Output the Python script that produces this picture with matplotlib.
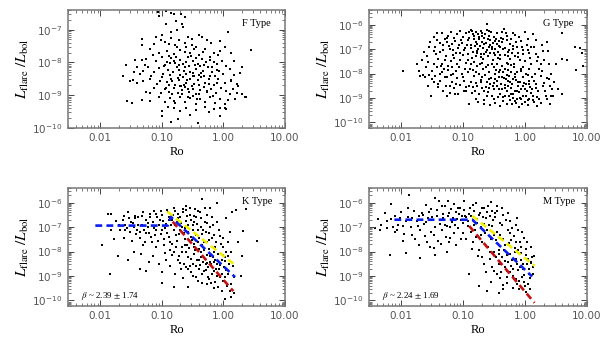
import numpy as np
import matplotlib.pyplot as plt
from matplotlib.ticker import FixedLocator, FixedFormatter, LogLocator, NullFormatter

# (log10 Ro, log10 Lflare/Lbol), one list per spectral type
f_pairs = [
    (-1.07, -6.46), (-1.05, -6.59), (-0.93, -6.43), (-0.85, -6.49), (-0.80, -6.53), (-0.69, -6.51),
    (-0.68, -6.84), (-0.66, -6.92), (-0.85, -7.07), (-0.99, -7.17), (0.08, -7.07), (-0.40, -7.15),
    (-0.75, -7.00), (-1.09, -7.23), (-1.33, -7.28), (-1.32, -7.48), (-1.13, -7.43), (-1.01, -7.33),
    (-0.85, -7.25), (-0.72, -7.33), (-0.51, -7.28), (-0.35, -7.23), (-0.51, -7.48), (-0.95, -7.38),
    (-0.88, -7.45), (-0.62, -7.40), (-0.05, -7.35), (-0.20, -7.42), (-0.75, -7.53), (-0.61, -7.53),
    (-0.91, -7.64), (-0.05, -7.64), (0.45, -7.62), (-1.20, -7.60), (-1.05, -7.70), (-0.80, -7.75),
    (-0.55, -7.70), (-0.40, -7.78), (-0.30, -7.60), (-0.15, -7.72), (0.12, -7.70), (-1.15, -7.78),
    (-0.70, -7.62), (-0.48, -7.58), (-1.58, -8.07), (-1.25, -7.90), (-1.10, -7.95), (-1.00, -7.85),
    (-0.92, -7.98), (-0.85, -7.88), (-0.78, -8.02), (-0.70, -7.92), (-0.65, -8.05), (-0.58, -7.85),
    (-0.50, -7.95), (-0.42, -8.05), (-0.35, -7.90), (-0.28, -8.00), (-0.22, -7.85), (-0.15, -7.98),
    (-0.10, -8.05), (-0.02, -7.95), (0.05, -8.10), (-1.32, -7.94), (-0.95, -8.08), (-0.88, -7.82),
    (-0.72, -8.08), (-0.60, -7.98), (-0.45, -7.88), (-0.32, -8.08), (-0.80, -7.95), (-1.36, -8.37),
    (-1.31, -8.25), (-1.45, -8.30), (-1.22, -8.15), (-1.12, -8.28), (-1.05, -8.18), (-0.98, -8.35),
    (-0.90, -8.22), (-0.82, -8.30), (-0.76, -8.15), (-0.70, -8.38), (-0.64, -8.25), (-0.56, -8.12),
    (-0.50, -8.32), (-0.45, -8.20), (-0.40, -8.38), (-0.33, -8.25), (-0.25, -8.15), (-0.18, -8.30),
    (-0.10, -8.22), (0.00, -8.35), (0.10, -8.20), (0.18, -8.38), (-0.60, -8.35), (-0.72, -8.22),
    (-0.38, -8.12), (-0.86, -8.40), (-0.55, -8.28), (-1.51, -8.56), (-1.47, -8.55), (-1.30, -8.56),
    (-1.40, -8.62), (-1.20, -8.50), (-1.08, -8.65), (-1.00, -8.45), (-0.92, -8.60), (-0.85, -8.50),
    (-0.78, -8.68), (-0.72, -8.55), (-0.66, -8.45), (-0.60, -8.62), (-0.54, -8.50), (-0.48, -8.66),
    (-0.42, -8.55), (-0.36, -8.45), (-0.30, -8.62), (-0.24, -8.52), (-0.16, -8.68), (-0.08, -8.50),
    (0.02, -8.62), (0.12, -8.55), (0.22, -8.65), (-0.64, -8.70), (-0.50, -8.42), (-0.88, -8.68),
    (-0.40, -8.70), (-1.25, -8.90), (-1.12, -8.78), (-1.02, -8.95), (-0.95, -8.82), (-0.88, -8.92),
    (-0.80, -8.78), (-0.74, -8.95), (-0.68, -8.85), (-0.62, -8.75), (-0.56, -8.92), (-0.50, -8.80),
    (-0.44, -8.98), (-0.38, -8.85), (-0.32, -8.75), (-0.26, -8.92), (-0.20, -8.82), (-0.12, -8.95),
    (-0.04, -8.78), (0.05, -8.88), (0.15, -8.80), (0.30, -8.98), (-0.70, -8.72), (-0.84, -8.98),
    (-0.58, -8.82), (-1.56, -9.17), (-1.32, -9.15), (-1.20, -9.18), (-1.05, -9.05), (-0.95, -9.20),
    (-0.86, -9.10), (-0.78, -9.25), (-0.70, -9.05), (-0.62, -9.20), (-0.54, -9.10), (-0.45, -9.28),
    (-0.38, -9.12), (-0.30, -9.22), (-0.22, -9.05), (-0.14, -9.25), (-0.06, -9.12), (0.02, -9.28),
    (0.08, -9.15), (0.35, -9.05), (-0.50, -9.02), (-0.90, -9.35), (-0.80, -9.40), (-0.60, -9.38),
    (-0.45, -9.45), (-0.30, -9.35), (-0.15, -9.42), (-0.05, -9.40), (0.02, -9.38), (-0.70, -9.50),
    (-1.00, -9.65), (-0.85, -9.82), (-0.42, -9.85), (-0.05, -9.65), (0.24, -8.71), (0.37, -9.07),
    (0.13, -8.56),
    (-0.97, -8.12), (-0.83, -8.57), (-0.77, -7.83), (-0.69, -8.71), (-0.63, -8.14), (-0.57, -9.07),
    (-0.53, -7.81), (-0.47, -8.43), (-0.43, -9.13), (-0.37, -8.31), (-0.33, -7.67), (-0.27, -8.87),
    (-0.21, -8.41), (-0.17, -9.03), (-0.11, -8.63), (-0.07, -8.27), (-0.93, -8.77), (-0.87, -8.03),
    (-0.81, -9.17), (-0.73, -8.47), (-0.67, -8.97), (-0.59, -8.53), (-0.51, -8.73), (-0.46, -8.07),
    (-0.39, -8.97), (-0.31, -8.43), (-0.24, -8.67), (-0.19, -8.13), (-0.13, -8.41), (-1.17, -8.43),
    (-1.27, -8.07), (-1.03, -8.57), (-1.41, -8.13), (-1.19, -8.93), (-0.99, -9.47), (-0.79, -7.47),
    (-0.63, -7.67), (-0.57, -7.23), (-0.44, -7.53), (-0.27, -7.33), (-0.63, -6.63), (-0.77, -6.73),
    (-0.94, -6.83), (0.27, -8.33), (0.19, -9.13), (0.11, -8.97), (0.04, -9.43), (-0.24, -9.51),
    (-0.54, -9.60), (-1.43, -7.93), (-1.63, -8.43), (-1.49, -9.23), (-0.73, -9.73), (-0.21, -7.93),
    (-0.09, -7.77), (0.03, -7.53), (0.18, -7.97), (0.31, -8.13), (0.22, -8.93),
]

g_pairs = [
    (-1.98, -7.90), (-1.75, -7.60), (-1.72, -7.90), (-1.70, -8.10), (-1.65, -8.05), (-1.58, -7.30),
    (-1.55, -6.90), (-1.52, -8.90), (-1.60, -7.75), (-1.62, -8.15),
    (-1.48, -6.50), (-1.42, -6.35), (-1.35, -6.35), (-1.30, -6.60), (-1.25, -6.45), (-1.20, -6.30),
    (-1.15, -6.55), (-1.10, -6.40), (-1.05, -6.25), (-1.00, -6.50), (-0.95, -6.35), (-0.90, -6.30),
    (-1.45, -6.90), (-1.38, -7.10), (-1.32, -6.85), (-1.28, -7.30), (-1.22, -7.00), (-1.18, -6.80),
    (-1.12, -7.15), (-1.08, -6.95), (-1.02, -6.75), (-0.98, -7.05), (-0.94, -6.85), (-0.92, -7.20),
    (-1.40, -7.40), (-1.35, -7.60), (-1.30, -7.45), (-1.25, -7.70), (-1.20, -7.50), (-1.15, -7.35),
    (-1.10, -7.60), (-1.05, -7.45), (-1.00, -7.25), (-0.96, -7.55), (-1.44, -7.20), (-1.16, -7.05),
    (-1.06, -7.15), (-1.26, -6.70),
    (-1.50, -7.90), (-1.45, -8.10), (-1.42, -7.75), (-1.38, -8.30), (-1.35, -7.95), (-1.30, -8.15),
    (-1.28, -8.50), (-1.25, -7.85), (-1.20, -8.05), (-1.18, -8.35), (-1.15, -8.60), (-1.12, -7.90),
    (-1.10, -8.20), (-1.05, -8.45), (-1.02, -8.00), (-0.98, -8.30), (-0.95, -8.70), (-0.92, -7.95),
    (-1.40, -8.55), (-1.32, -8.70), (-1.22, -8.80), (-1.08, -8.85), (-0.96, -8.55), (-1.48, -8.35),
    (-1.55, -8.05), (-1.18, -7.75), (-1.36, -7.70),
    (-0.88, -6.20), (-0.85, -6.40), (-0.82, -6.60), (-0.80, -6.30), (-0.78, -6.80), (-0.75, -6.50),
    (-0.72, -6.25), (-0.70, -6.70), (-0.68, -6.95), (-0.65, -6.40), (-0.62, -6.20), (-0.60, -6.60),
    (-0.58, -6.90), (-0.55, -6.30), (-0.52, -6.75), (-0.50, -6.50), (-0.48, -7.00), (-0.45, -6.35),
    (-0.42, -6.65), (-0.40, -6.90), (-0.62, -5.97), (-0.88, -6.85), (-0.84, -7.10), (-0.80, -7.30),
    (-0.76, -7.00), (-0.72, -7.20), (-0.68, -7.40), (-0.64, -7.10), (-0.60, -7.30), (-0.56, -7.15),
    (-0.52, -7.45), (-0.48, -7.25), (-0.44, -7.10), (-0.40, -7.40), (-0.86, -7.35), (-0.74, -6.60),
    (-0.66, -6.80), (-0.54, -7.00), (-0.46, -6.80), (-0.78, -7.15), (-0.70, -6.45), (-0.58, -6.45),
    (-0.88, -7.60), (-0.85, -7.85), (-0.82, -8.10), (-0.80, -8.40), (-0.78, -7.70), (-0.75, -8.00),
    (-0.72, -8.25), (-0.70, -8.60), (-0.68, -7.80), (-0.65, -8.05), (-0.62, -8.35), (-0.60, -7.65),
    (-0.58, -7.95), (-0.55, -8.20), (-0.52, -8.50), (-0.50, -7.75), (-0.48, -8.00), (-0.45, -8.30),
    (-0.42, -8.65), (-0.40, -7.85), (-0.86, -8.80), (-0.80, -9.05), (-0.74, -8.85), (-0.66, -9.10),
    (-0.60, -8.75), (-0.54, -8.90), (-0.48, -9.20), (-0.44, -8.95), (-0.90, -9.25), (-0.56, -9.30),
    (-0.76, -9.15), (-0.64, -8.55), (-0.50, -8.40), (-0.84, -8.55), (-0.70, -7.55), (-0.46, -7.60),
    (-0.58, -8.60), (-0.42, -8.15),
    (-0.38, -6.30), (-0.35, -6.60), (-0.30, -6.45), (-0.25, -6.80), (-0.20, -6.35), (-0.15, -6.70),
    (-0.10, -6.50), (-0.05, -6.90), (0.00, -6.30), (0.05, -6.60), (-0.36, -7.00), (-0.32, -7.25),
    (-0.28, -7.10), (-0.24, -7.40), (-0.20, -7.00), (-0.16, -7.30), (-0.12, -7.15), (-0.08, -7.45),
    (-0.04, -7.20), (0.00, -7.50), (0.04, -7.05), (0.08, -7.35), (-0.30, -7.55), (-0.18, -7.60),
    (-0.38, -7.70), (-0.36, -7.95), (-0.34, -8.20), (-0.32, -8.45), (-0.30, -8.70), (-0.28, -7.85),
    (-0.26, -8.10), (-0.24, -8.35), (-0.22, -8.60), (-0.20, -8.85), (-0.18, -7.75), (-0.16, -8.00),
    (-0.14, -8.25), (-0.12, -8.50), (-0.10, -8.75), (-0.08, -9.00), (-0.06, -7.90), (-0.04, -8.15),
    (-0.02, -8.40), (0.00, -8.65), (0.02, -8.90), (0.04, -8.05), (0.06, -8.30), (0.08, -8.55),
    (0.10, -8.80), (-0.35, -8.95), (-0.25, -9.10), (-0.15, -9.20), (-0.05, -9.25), (0.05, -9.10),
    (-0.30, -9.25), (-0.10, -9.35), (0.00, -9.15), (-0.20, -9.00), (-0.33, -8.60), (-0.27, -8.30),
    (-0.13, -8.70), (-0.03, -8.50), (0.07, -7.80), (-0.22, -7.95),
    (0.12, -6.40), (0.15, -6.90), (0.18, -7.20), (0.20, -7.50), (0.22, -7.80), (0.25, -8.10),
    (0.28, -7.90), (0.30, -8.40), (0.32, -8.70), (0.35, -8.20), (0.38, -7.60), (0.40, -8.50),
    (0.42, -8.00), (0.15, -8.30), (0.18, -8.60), (0.20, -8.95), (0.12, -9.10), (0.25, -9.20),
    (0.35, -9.05), (0.45, -8.90), (0.50, -7.60), (0.59, -7.40), (0.68, -7.44), (0.80, -6.92),
    (0.88, -6.95), (0.92, -7.18), (0.93, -7.70), (0.83, -7.86), (0.60, -8.83), (0.42, -8.90),
    (0.60, -6.34), (0.37, -7.08), (0.29, -7.08),
    (-0.93, -6.62), (-0.87, -6.97), (-0.83, -6.48), (-0.79, -6.73), (-0.77, -7.07), (-0.73, -6.87),
    (-0.71, -7.33), (-0.67, -6.53), (-0.63, -6.77), (-0.61, -7.03), (-0.57, -6.63), (-0.53, -6.93),
    (-0.51, -7.17), (-0.47, -6.57), (-0.43, -6.87), (-0.41, -7.23), (-0.37, -6.73), (-0.33, -6.97),
    (-0.31, -6.33), (-0.27, -7.27), (-0.23, -6.57), (-0.21, -7.17), (-0.17, -6.43), (-0.13, -6.93),
    (-0.91, -6.53), (-0.86, -6.27), (-0.81, -6.89), (-0.76, -6.37), (-0.69, -6.33), (-0.66, -7.19),
    (-0.59, -6.27), (-0.56, -6.83), (-0.49, -6.69), (-0.44, -7.37), (-0.39, -6.53), (-0.34, -6.17),
    (-0.29, -6.63), (-0.26, -7.03), (-0.19, -6.87), (-0.11, -7.33), (-0.07, -6.67), (-0.03, -7.03),
    (0.03, -6.83), (0.07, -7.17), (-0.97, -6.97), (-1.03, -6.63), (-1.07, -6.83), (-1.13, -6.67),
    (-1.17, -7.23), (-1.23, -6.87), (-1.27, -6.53), (-1.33, -7.03), (-1.37, -6.77), (-1.43, -6.63),
    (-1.47, -7.07), (-1.53, -6.73), (-1.57, -7.53), (-1.63, -7.13), (-1.67, -7.43),
    (-0.93, -7.43), (-0.89, -7.83), (-0.83, -7.53), (-0.79, -7.93), (-0.73, -7.63), (-0.69, -8.13),
    (-0.63, -7.73), (-0.59, -8.23), (-0.53, -7.63), (-0.49, -8.23), (-0.43, -7.93), (-0.39, -8.43),
    (-0.33, -7.83), (-0.29, -8.07), (-0.23, -7.67), (-0.19, -8.23), (-0.13, -7.93), (-0.09, -8.33),
    (-0.03, -7.73), (0.01, -8.03), (0.07, -8.43), (0.11, -8.13), (-0.97, -7.83), (-1.01, -8.13),
    (-1.07, -7.73), (-1.11, -8.43), (-1.17, -8.03), (-1.21, -8.53), (-1.27, -8.13), (-1.31, -7.83),
    (-1.37, -8.03), (-1.41, -8.43), (-1.47, -7.63), (-1.51, -8.23), (-1.57, -8.53), (-1.27, -8.93),
    (-1.13, -8.83), (-0.99, -8.73),
    (-0.37, -8.63), (-0.33, -8.93), (-0.31, -8.23), (-0.27, -8.53), (-0.23, -8.83), (-0.21, -8.43),
    (-0.17, -8.73), (-0.13, -9.03), (-0.11, -8.33), (-0.07, -8.63), (-0.03, -8.93), (0.01, -8.43),
    (0.03, -8.73), (0.07, -9.03), (0.11, -8.63), (0.13, -8.93), (0.17, -8.43), (0.21, -8.73),
    (0.23, -9.03), (-0.41, -8.83), (-0.46, -8.53), (-0.51, -8.63), (-0.56, -8.43), (-0.61, -8.93),
    (-0.67, -8.73), (-0.71, -8.33), (-0.77, -8.53), (-0.81, -8.73), (-0.87, -8.33), (-0.91, -8.53),
    (-0.36, -9.13), (-0.26, -8.93), (-0.16, -9.13), (-0.06, -9.03), (0.04, -9.27), (0.14, -9.17),
    (-0.21, -9.23), (-0.41, -9.33), (-0.51, -9.03), (-0.66, -9.23), (-0.47, -7.87), (-0.37, -8.13),
    (-0.27, -7.63), (-0.17, -8.13), (-0.07, -7.83), (0.09, -7.63), (0.16, -8.03), (0.21, -7.33),
    (0.26, -7.63), (0.29, -8.53), (0.33, -8.93), (0.39, -8.23), (0.43, -8.63), (0.27, -6.83),
    (0.17, -6.63), (0.09, -6.93), (0.31, -7.43), (0.36, -6.73), (0.47, -8.33), (0.53, -8.63),
    (0.41, -9.23), (0.19, -9.33),
]

k_pairs = [
    (-1.87, -6.45), (-1.83, -6.47), (-1.98, -7.74), (-1.84, -8.90), (-1.78, -7.50), (-1.60, -7.10),
    (-1.71, -8.17), (-1.55, -8.36), (-1.26, -8.80), (-1.36, -8.73), (-1.55, -6.40), (-1.50, -6.80),
    (-1.45, -7.00), (-1.42, -7.30), (-1.38, -6.60), (-1.35, -7.20), (-1.32, -6.90), (-1.30, -6.40),
    (-1.28, -7.60), (-1.25, -6.70), (-1.22, -7.00), (-1.20, -6.45), (-1.18, -7.40), (-1.15, -6.80),
    (-1.12, -6.35), (-1.10, -7.10), (-1.08, -6.60), (-1.05, -6.90), (-1.02, -7.30), (-1.00, -6.50),
    (-0.98, -6.75), (-0.95, -7.05), (-0.92, -6.30), (-1.48, -7.55), (-1.34, -8.10), (-1.15, -8.20),
    (-1.10, -7.80), (-1.05, -8.50), (-1.00, -9.30), (-0.95, -8.05), (-1.60, -6.90), (-1.52, -7.20),
    (-1.68, -7.10), (-1.70, -6.90), (-1.62, -6.55), (-1.44, -6.55), (-1.26, -7.25), (-1.16, -7.60),
    (-1.06, -7.55), (-0.96, -7.50), (-1.36, -7.45), (-1.74, -6.75),
    (-0.90, -6.40), (-0.88, -6.70), (-0.85, -6.90), (-0.82, -6.50), (-0.80, -7.10), (-0.78, -6.35),
    (-0.75, -6.80), (-0.72, -7.30), (-0.70, -6.60), (-0.68, -7.00), (-0.65, -6.40), (-0.62, -7.50),
    (-0.60, -6.75), (-0.58, -7.20), (-0.55, -6.50), (-0.52, -7.40), (-0.50, -6.90), (-0.48, -7.70),
    (-0.45, -6.60), (-0.42, -7.10), (-0.40, -7.90), (-0.38, -6.40), (-0.35, -7.30), (-0.32, -7.60),
    (-0.30, -6.80), (-0.88, -7.40), (-0.84, -7.70), (-0.80, -8.00), (-0.76, -7.55), (-0.72, -8.20),
    (-0.68, -7.80), (-0.64, -8.50), (-0.60, -8.00), (-0.56, -7.85), (-0.52, -8.30), (-0.48, -8.10),
    (-0.44, -8.60), (-0.40, -8.35), (-0.36, -8.00), (-0.32, -8.80), (-0.86, -8.60), (-0.78, -8.90),
    (-0.66, -9.10), (-0.58, -8.70), (-0.50, -9.00), (-0.42, -9.20), (-0.34, -9.30), (-0.70, -8.45),
    (-0.55, -6.20), (-0.60, -6.30), (-0.46, -6.25), (-0.74, -6.45), (-0.34, -5.84), (-0.11, -6.00),
    (-0.28, -7.20), (-0.26, -7.60), (-0.24, -7.90), (-0.22, -8.20), (-0.20, -8.50), (-0.18, -7.45),
    (-0.16, -8.00), (-0.14, -8.35), (-0.12, -8.70), (-0.10, -9.00), (-0.08, -8.10), (-0.06, -8.55),
    (-0.04, -7.70), (-0.02, -8.90), (0.00, -9.20), (0.02, -8.40), (0.04, -8.75), (0.06, -9.40),
    (0.08, -8.20), (0.10, -9.60), (-0.28, -8.75), (-0.25, -9.05), (-0.20, -9.30), (-0.15, -9.50),
    (-0.30, -8.30), (-0.22, -7.00), (-0.12, -7.60), (-0.05, -7.35), (0.00, -7.80), (0.05, -8.00),
    (0.10, -7.20), (0.15, -8.60), (0.18, -9.70), (0.12, -9.85), (-0.18, -6.60), (-0.26, -6.50),
    (-0.10, -6.80), (-0.30, -6.20),
    (0.21, -6.32), (0.37, -6.26), (0.32, -7.17), (0.23, -7.62), (0.30, -8.20), (0.28, -9.00),
    (0.55, -7.56), (1.07, -9.48), (-0.38, -8.55), (-0.46, -7.95), (-0.54, -8.60), (-0.62, -7.75),
    (-0.26, -8.45), (-0.16, -8.80), (-0.08, -8.40), (-0.36, -7.00), (-0.48, -6.80), (-0.64, -7.25),
    (-1.43, -6.63), (-1.39, -6.93), (-1.33, -6.53), (-1.29, -7.13), (-1.23, -6.83), (-1.19, -6.57),
    (-1.13, -7.03), (-1.09, -6.47), (-1.03, -6.73), (-0.99, -7.13), (-0.93, -6.87), (-0.89, -6.57),
    (-0.83, -6.73), (-0.79, -6.93), (-0.73, -6.63), (-0.69, -6.83), (-0.63, -7.03), (-0.59, -6.53),
    (-0.53, -6.73), (-0.49, -7.13), (-0.43, -6.87), (-0.39, -7.43), (-0.33, -7.13), (-1.47, -6.83),
    (-1.53, -6.63), (-1.57, -7.03), (-1.63, -6.73), (-1.41, -7.13), (-1.21, -7.23), (-1.01, -6.33),
    (-0.81, -6.23), (-0.61, -6.13), (-0.71, -7.13), (-0.91, -7.23), (-0.51, -7.53), (-0.47, -7.83),
    (-0.41, -7.63), (-0.37, -8.23), (-0.31, -7.93), (-0.27, -8.13), (-0.23, -7.53), (-0.21, -8.43),
    (-0.17, -8.23), (-0.13, -7.83), (-0.11, -8.53), (-0.07, -8.73), (-0.03, -8.33), (0.01, -8.63),
    (0.03, -9.03), (0.07, -8.93), (-0.29, -8.53), (-0.33, -8.43), (-0.39, -8.73), (-0.43, -8.33),
    (-0.49, -8.53), (-0.53, -8.83), (-0.57, -8.23), (-0.61, -8.63), (-0.67, -8.03), (-0.73, -8.33),
    (-0.77, -7.83), (-0.83, -8.13), (-0.87, -7.93), (-0.93, -8.33), (-0.97, -7.73), (-0.19, -8.93),
    (-0.23, -9.13), (-0.13, -9.23), (-0.09, -9.43), (-0.27, -9.33), (-0.35, -8.93), (-0.45, -9.03),
    (-0.57, -9.43), (-0.03, -9.63), (0.03, -9.93), (0.13, -9.33), (0.09, -8.53), (0.13, -8.03),
    (0.17, -9.03), (0.07, -7.63), (-0.01, -7.43), (-0.07, -7.13), (-0.17, -6.93), (-0.21, -6.23),
    (-0.27, -6.83), (-0.37, -6.63), (-0.41, -6.33), (-0.47, -6.53), (-0.57, -6.93), (-0.65, -6.27),
    (-0.77, -7.33), (-0.87, -7.63), (-0.59, -7.73), (-0.45, -7.33), (-0.24, -7.23), (-0.15, -7.33),
    (0.05, -6.63), (0.14, -6.37), (0.03, -8.23), (-0.25, -8.63), (-0.15, -8.43), (-0.05, -9.03),
    (0.00, -8.13), (-0.35, -7.73), (-1.11, -7.33), (-1.31, -7.73), (-1.45, -8.03), (-1.21, -8.43),
    (-0.99, -8.83), (-0.81, -9.43), (-0.69, -8.73), (-1.61, -7.43), (-1.83, -7.13),
]

m_pairs = [
    (-2.43, -7.05), (-2.37, -6.68), (-2.35, -7.14), (-2.27, -6.43), (-2.24, -7.05), (-2.16, -6.68),
    (-2.13, -7.00), (-2.11, -7.20), (-2.17, -6.04), (-2.19, -8.13), (-1.87, -5.69), (-1.92, -8.08),
    (-2.10, -6.55), (-2.05, -6.90), (-2.00, -6.40), (-1.95, -7.30), (-1.90, -6.60), (-1.85, -7.00),
    (-1.80, -6.35), (-1.78, -7.50), (-1.75, -6.75), (-1.70, -7.10), (-1.65, -6.50), (-1.62, -7.35),
    (-1.60, -6.80), (-1.55, -6.40), (-1.52, -7.20), (-1.50, -6.60), (-1.45, -7.00), (-1.42, -6.30),
    (-1.40, -7.55), (-1.38, -6.70), (-1.35, -7.10), (-1.32, -6.45), (-1.30, -6.90), (-1.28, -7.40),
    (-1.25, -6.55), (-1.22, -7.00), (-1.20, -6.25), (-1.18, -6.80), (-1.15, -7.25), (-1.12, -6.40),
    (-1.10, -6.65), (-1.08, -7.05), (-1.05, -6.20), (-1.02, -6.55), (-1.00, -6.85), (-1.98, -7.55),
    (-1.72, -7.75), (-1.58, -7.60), (-1.48, -7.85), (-1.36, -7.70), (-1.26, -8.00), (-1.12, -7.75),
    (-1.04, -7.50), (-1.70, -8.25), (-1.45, -8.15), (-1.45, -5.80), (-1.25, -5.95), (-1.15, -6.05),
    (-1.35, -6.15), (-1.60, -6.10), (-1.90, -6.20), (-1.72, -6.55), (-1.52, -6.25),
    (-0.98, -6.30), (-0.95, -6.60), (-0.92, -6.95), (-0.90, -6.45), (-0.88, -7.20), (-0.85, -6.70),
    (-0.82, -6.35), (-0.80, -7.40), (-0.78, -6.85), (-0.75, -6.50), (-0.72, -7.00), (-0.70, -7.60),
    (-0.68, -6.60), (-0.65, -7.25), (-0.62, -6.40), (-0.60, -7.80), (-0.58, -6.90), (-0.55, -7.50),
    (-0.52, -6.70), (-0.50, -8.00), (-0.96, -7.50), (-0.86, -7.90), (-0.76, -8.20), (-0.66, -8.50),
    (-0.56, -8.30), (-0.50, -8.80), (-0.90, -8.90), (-0.74, -9.40), (-0.62, -9.60), (-0.84, -6.10),
    (-0.70, -6.20), (-0.60, -6.15), (-0.54, -6.35),
    (-0.48, -6.60), (-0.46, -7.20), (-0.44, -7.70), (-0.42, -8.10), (-0.40, -8.50), (-0.38, -6.90),
    (-0.36, -7.50), (-0.34, -7.95), (-0.32, -8.40), (-0.30, -8.80), (-0.28, -7.10), (-0.26, -7.65),
    (-0.24, -8.10), (-0.22, -8.60), (-0.20, -9.00), (-0.18, -7.35), (-0.16, -7.85), (-0.14, -8.30),
    (-0.12, -8.75), (-0.10, -9.20), (-0.08, -7.60), (-0.06, -8.05), (-0.04, -8.50), (-0.02, -8.95),
    (0.00, -9.40), (0.02, -7.90), (0.04, -8.30), (0.06, -8.70), (0.08, -9.10), (0.10, -8.45),
    (0.12, -8.90), (0.14, -8.20), (-0.45, -6.35), (-0.35, -6.50), (-0.25, -6.75), (-0.15, -6.90),
    (-0.05, -7.20), (-0.13, -6.62), (-0.40, -9.10), (-0.30, -9.30), (-0.20, -9.50), (-0.10, -9.55),
    (-0.45, -8.90), (-0.35, -9.35), (0.02, -9.65), (-0.42, -9.70),
    (-1.43, -6.53), (-1.37, -6.87), (-1.33, -6.63), (-1.27, -6.97), (-1.23, -6.43), (-1.17, -6.63),
    (-1.13, -6.93), (-1.07, -6.47), (-1.03, -6.73), (-0.97, -6.53), (-0.93, -6.77), (-0.87, -6.53),
    (-0.83, -6.93), (-0.77, -6.67), (-0.73, -6.43), (-0.67, -6.87), (-0.63, -6.63), (-0.57, -6.53),
    (-0.53, -6.97), (-0.49, -6.43), (-1.57, -6.63), (-1.63, -6.87), (-1.67, -6.43), (-1.73, -6.97),
    (-1.83, -6.63), (-1.93, -6.77), (-2.03, -6.63), (-2.23, -6.77), (-2.33, -6.93), (-1.47, -7.33),
    (-1.21, -7.43), (-1.01, -7.23), (-0.81, -7.13), (-0.71, -7.33), (-0.61, -7.13), (-0.51, -7.33),
    (-0.47, -7.53), (-0.43, -7.93), (-0.41, -7.33), (-0.37, -8.23), (-0.33, -7.73), (-0.29, -8.13),
    (-0.27, -8.43), (-0.23, -7.53), (-0.21, -8.33), (-0.17, -8.03), (-0.13, -8.53), (-0.11, -7.93),
    (-0.07, -8.33), (-0.03, -8.73), (0.01, -8.13), (0.03, -8.53), (0.07, -8.93), (0.11, -8.23),
    (0.13, -8.63), (-0.43, -8.53), (-0.39, -8.83), (-0.33, -8.63), (-0.29, -9.03), (-0.25, -8.83),
    (-0.19, -8.73), (-0.15, -9.13), (-0.09, -8.63), (-0.05, -9.03), (-0.01, -9.23), (0.05, -9.33),
    (-0.47, -8.23), (-0.53, -8.63), (-0.57, -8.03), (-0.63, -8.83), (-0.69, -8.23), (-0.41, -6.83),
    (-0.31, -6.73), (-0.21, -7.03), (-0.11, -7.13), (-0.01, -7.43), (0.03, -7.63), (0.09, -7.83),
    (-0.27, -6.43), (-0.37, -6.23), (-0.45, -6.13), (-0.55, -5.97), (-0.67, -6.23), (-0.79, -6.03),
    (-0.89, -6.23), (-0.99, -5.93), (-1.09, -6.23), (-1.29, -6.13), (-1.39, -5.93), (-1.23, -7.63),
    (-1.53, -7.83), (-1.83, -7.33), (-1.97, -6.97), (-2.07, -7.13), (-0.85, -7.63), (-0.75, -7.93),
    (-0.35, -9.53), (-0.13, -9.33), (-0.55, -9.23), (-0.25, -7.23), (-0.15, -7.63), (-0.06, -7.83),
    (0.10, -8.43), (0.08, -9.53),
]

# fitted relations (Ro, Lflare/Lbol)
k_blue_ro = [0.0083, 0.125, 0.14, 1.55]
k_blue_l = [1.15e-7, 1.15e-7, 2.6e-7, 9e-10]
k_yellow_ro = [0.123, 1.45]
k_yellow_l = [4.3e-7, 3.2e-9]
k_red_ro = [0.15, 1.45]
k_red_l = [1.66e-7, 2.4e-10]

m_blue_ro = [0.0077, 0.14, 1.3]
m_blue_l = [2e-7, 2e-7, 9.5e-10]
m_yellow_ro = [0.14, 1.42]
m_yellow_l = [2.9e-7, 2.6e-9]
m_red_ro = [0.125, 1.42]
m_red_l = [1.1e-7, 8e-11]

types = ["F Type", "G Type", "K Type", "M Type"]
betas = [None, None, r"$\beta$ ~ 2.39 $\pm$ 1.74", r"$\beta$ ~ 2.24 $\pm$ 1.69"]
xticks = [0.01, 0.1, 1, 10]
xticklabels = ["0.01", "0.10", "1.00", "10.00"]

fig = plt.figure(figsize=(6.14, 3.41), dpi=100)
boxes = [
    [0.111, 0.625, 0.353, 0.346],
    [0.601, 0.625, 0.355, 0.346],
    [0.111, 0.103, 0.353, 0.346],
    [0.601, 0.103, 0.355, 0.346],
]
ylims = [(1e-10, 4e-7), (6e-11, 4e-6), (6e-11, 4e-6), (6e-11, 4e-6)]
yticks_all = [[1e-10, 1e-9, 1e-8, 1e-7], [1e-10, 1e-9, 1e-8, 1e-7, 1e-6],
              [1e-10, 1e-9, 1e-8, 1e-7, 1e-6], [1e-10, 1e-9, 1e-8, 1e-7, 1e-6]]
dash = (0, (2.6, 1.6))

for i, pairs in enumerate([f_pairs, g_pairs, k_pairs, m_pairs]):
    ax = fig.add_axes(boxes[i])
    lro, ll = np.array(pairs).T
    ax.scatter(10 ** lro, 10 ** ll, s=2.6, marker="s", color="black", linewidths=0)

    if i == 2:
        ax.plot(k_yellow_ro, k_yellow_l, color="#f2f200", lw=1.9, ls=dash)
        ax.plot(k_red_ro, k_red_l, color="#c41010", lw=1.9, ls=dash)
        ax.plot(k_blue_ro, k_blue_l, color="#0a1ef0", lw=1.9, ls=dash)
    if i == 3:
        ax.plot(m_yellow_ro, m_yellow_l, color="#f2f200", lw=1.9, ls=dash)
        ax.plot(m_red_ro, m_red_l, color="#c41010", lw=1.9, ls=dash)
        ax.plot(m_blue_ro, m_blue_l, color="#0a1ef0", lw=1.9, ls=dash)

    ax.set_xscale("log")
    ax.set_yscale("log")
    ax.set_xlim(0.003, 10)
    ax.set_ylim(*ylims[i])
    ax.xaxis.set_major_locator(FixedLocator(xticks))
    ax.xaxis.set_major_formatter(FixedFormatter(xticklabels))
    ax.xaxis.set_minor_locator(LogLocator(base=10, subs=np.arange(2, 10), numticks=20))
    ax.xaxis.set_minor_formatter(NullFormatter())
    ax.yaxis.set_major_locator(FixedLocator(yticks_all[i]))
    ax.yaxis.set_minor_locator(LogLocator(base=10, subs=np.arange(2, 10), numticks=20))
    ax.yaxis.set_minor_formatter(NullFormatter())
    ax.tick_params(which="both", direction="in", top=True, right=True,
                   labelsize=7.5, labelcolor="#555555", color="#444444", pad=4)
    ax.tick_params(which="major", length=4, width=0.7)
    ax.tick_params(which="minor", length=2, width=0.5)
    for sp in ax.spines.values():
        sp.set_color("#777777")
        sp.set_linewidth(1.1)

    ax.set_xlabel("Ro", family="Liberation Serif", fontsize=9, labelpad=2)
    ax.set_ylabel(r"$L_{\rm flare}\ /L_{\rm bol}$", fontsize=11, math_fontfamily="stix", labelpad=1)
    ax.text(0.80, 0.86, types[i], transform=ax.transAxes, family="Liberation Serif", fontsize=7.5)
    if betas[i]:
        ax.text(0.06, 0.07, betas[i], transform=ax.transAxes, family="Liberation Serif",
                fontsize=6.5, math_fontfamily="stix")

fig.savefig("out.png", dpi=100)
